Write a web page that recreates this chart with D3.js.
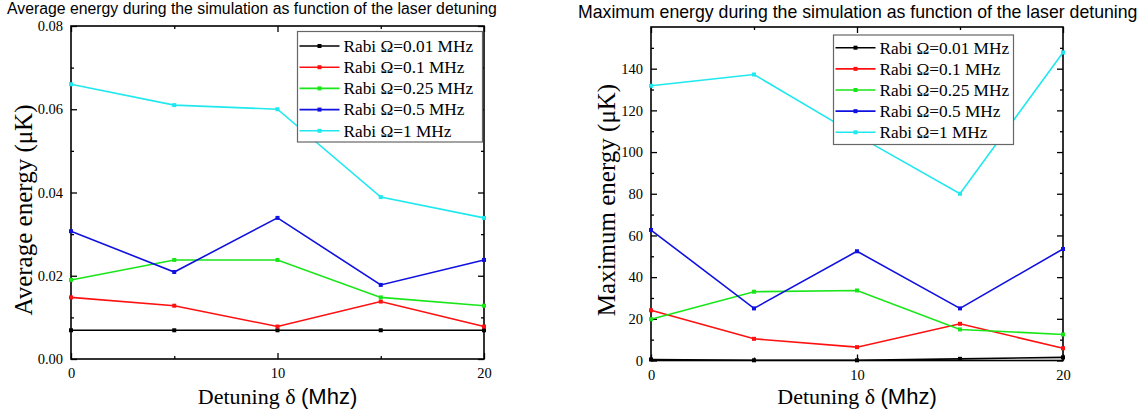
<!DOCTYPE html>
<html>
<head>
<meta charset="utf-8">
<script src="https://cdn.jsdelivr.net/npm/d3@7/dist/d3.min.js"></script>
<style>
  html, body { margin: 0; padding: 0; background: #fff; }
  svg { display: block; }
</style>
</head>
<body>
<svg id="chart" width="1143" height="412"></svg>
<script>
// Detuning values (MHz) shared by both panels
const detuning = [0, 5, 10, 15, 20];
const detuningTicks = [0, 10, 20];
const detuningMinor = [5, 15];

const rabiLabels = ["Rabi Ω=0.01 MHz", "Rabi Ω=0.1 MHz", "Rabi Ω=0.25 MHz", "Rabi Ω=0.5 MHz", "Rabi Ω=1 MHz"];
const rabiColors = ["#000000", "#ff1010", "#19e619", "#1010e0", "#1fe8ef"];

// Average energy (μK) per Rabi frequency
const avgRabi001 = [0.0069, 0.0069, 0.0069, 0.0069, 0.0069];
const avgRabi01  = [0.0148, 0.0128, 0.0078, 0.0138, 0.0078];
const avgRabi025 = [0.0190, 0.0238, 0.0238, 0.0148, 0.0128];
const avgRabi05  = [0.0307, 0.0209, 0.0339, 0.0178, 0.0238];
const avgRabi1   = [0.0660, 0.0610, 0.0600, 0.0389, 0.0339];
const avgTicks = [0, 0.02, 0.04, 0.06, 0.08];
const avgMinor = [0.01, 0.03, 0.05, 0.07];

// Maximum energy (μK) per Rabi frequency
const maxRabi001 = [0.5, 0.1, 0.1, 0.8, 1.5];
const maxRabi01  = [24.1, 10.4, 6.4, 17.6, 5.9];
const maxRabi025 = [19.8, 33.0, 33.6, 14.9, 12.5];
const maxRabi05  = [62.6, 25.0, 52.4, 25.0, 53.5];
const maxRabi1   = [131.8, 137.2, 108.0, 80.0, 147.8];
const maxTicks = [0, 20, 40, 60, 80, 100, 120, 140];
const maxMinor = [10, 30, 50, 70, 90, 110, 130, 150];

const svg = d3.select("#chart");
const serif = "'Liberation Serif', 'Times New Roman', serif";
const sans = "'Liberation Sans', Arial, sans-serif";

function drawPanel(p) {
  const x = d3.scaleLinear().domain([0, 20]).range([p.left, p.right]);
  const y = d3.scaleLinear().domain(p.yDomain).range([p.bottom, p.top]);
  const g = svg.append("g");

  // title
  g.append("text")
    .attr("x", p.titleX).attr("y", p.titleY)
    .attr("font-family", sans).attr("font-size", p.titleSize)
    .attr("fill", "#000")
    .text(p.title);

  // frame
  g.append("rect")
    .attr("x", p.left).attr("y", p.top)
    .attr("width", p.right - p.left).attr("height", p.bottom - p.top)
    .attr("fill", "none").attr("stroke", "#000").attr("stroke-width", 1.6);

  // axes: ticks point inward, mirrored on the opposite sides
  const bottomAxis = d3.axisBottom(x).tickValues(detuningTicks).tickSize(-6).tickPadding(9).tickFormat(d3.format("d"));
  const bottomMinor = d3.axisBottom(x).tickValues(detuningMinor).tickSize(-3).tickFormat("");
  const topAxis = d3.axisTop(x).tickValues(detuningTicks).tickSize(-6).tickFormat("");
  const topMinor = d3.axisTop(x).tickValues(detuningMinor).tickSize(-3).tickFormat("");
  const leftAxis = d3.axisLeft(y).tickValues(p.yTicks).tickSize(-6).tickPadding(8).tickFormat(p.yFormat);
  const leftMinor = d3.axisLeft(y).tickValues(p.yMinor).tickSize(-3).tickFormat("");
  const rightAxis = d3.axisRight(y).tickValues(p.yTicks).tickSize(-6).tickFormat("");
  const rightMinor = d3.axisRight(y).tickValues(p.yMinor).tickSize(-3).tickFormat("");

  const place = [
    [bottomAxis, `translate(0,${p.bottom})`], [bottomMinor, `translate(0,${p.bottom})`],
    [topAxis, `translate(0,${p.top})`], [topMinor, `translate(0,${p.top})`],
    [leftAxis, `translate(${p.left},0)`], [leftMinor, `translate(${p.left},0)`],
    [rightAxis, `translate(${p.right},0)`], [rightMinor, `translate(${p.right},0)`]
  ];
  place.forEach(([axis, tr]) => {
    const a = g.append("g").attr("transform", tr).call(axis);
    a.select(".domain").remove();
    a.selectAll(".tick line").attr("stroke", "#000").attr("stroke-width", 1.3);
    a.selectAll(".tick text").attr("font-family", serif).attr("font-size", 14.5).attr("fill", "#000");
  });

  // axis titles
  const xt = g.append("text")
    .attr("x", (p.left + p.right) / 2).attr("y", 404)
    .attr("text-anchor", "middle").attr("font-size", 22).attr("fill", "#000");
  xt.append("tspan").attr("font-family", serif).text("Detuning δ ");
  xt.append("tspan").attr("font-family", sans).text("(Mhz)");

  g.append("text")
    .attr("transform", `translate(${p.yTitleX},${p.yTitleY}) rotate(-90)`)
    .attr("text-anchor", "middle").attr("font-family", serif).attr("font-size", 25).attr("fill", "#000")
    .text(p.yTitle);

  // series
  const line = d3.line().x((d, i) => x(detuning[i])).y(d => y(d));
  p.series.forEach((vals, k) => {
    g.append("path").datum(vals)
      .attr("d", line).attr("fill", "none")
      .attr("stroke", rabiColors[k]).attr("stroke-width", 1.6);
    g.selectAll(null).data(vals).enter().append("rect")
      .attr("x", (d, i) => x(detuning[i]) - 2).attr("y", d => y(d) - 2)
      .attr("width", 4).attr("height", 4).attr("fill", rabiColors[k]);
  });

  // legend
  const L = p.legend;
  g.append("rect")
    .attr("x", L.x).attr("y", L.y).attr("width", L.w).attr("height", L.h)
    .attr("fill", "#fff").attr("stroke", "#666").attr("stroke-width", 1.2);
  rabiLabels.forEach((lab, k) => {
    const yy = L.y + L.first + k * L.step;
    g.append("line")
      .attr("x1", L.x + 2).attr("x2", L.x + 42).attr("y1", yy).attr("y2", yy)
      .attr("stroke", rabiColors[k]).attr("stroke-width", 1.6);
    g.append("rect")
      .attr("x", L.x + 20).attr("y", yy - 2).attr("width", 4).attr("height", 4)
      .attr("fill", rabiColors[k]);
    g.append("text")
      .attr("x", L.x + 46).attr("y", yy).attr("dy", "0.34em")
      .attr("font-family", serif).attr("font-size", 17.3).attr("fill", "#000")
      .text(lab);
  });
}

drawPanel({
  title: "Average energy during the simulation as function of the laser detuning",
  titleX: 7, titleY: 14, titleSize: 15.8,
  left: 71, right: 484, top: 26, bottom: 359,
  yDomain: [0, 0.08], yTicks: avgTicks, yMinor: avgMinor, yFormat: d3.format(".2f"),
  yTitle: "Average energy (μK)", yTitleX: 32, yTitleY: 210,
  series: [avgRabi001, avgRabi01, avgRabi025, avgRabi05, avgRabi1],
  legend: { x: 297.5, y: 31.5, w: 185, h: 110.5, first: 14.5, step: 21.2 }
});

drawPanel({
  title: "Maximum energy during the simulation as function of the laser detuning",
  titleX: 578, titleY: 18, titleSize: 17.7,
  left: 651, right: 1063, top: 27, bottom: 360.5,
  yDomain: [0, 160], yTicks: maxTicks, yMinor: maxMinor, yFormat: d3.format("d"),
  yTitle: "Maximum energy (μK)", yTitleX: 615, yTitleY: 200,
  series: [maxRabi001, maxRabi01, maxRabi025, maxRabi05, maxRabi1],
  legend: { x: 833.5, y: 35, w: 180, h: 109.5, first: 12.7, step: 21.15 }
});
</script>
</body>
</html>
